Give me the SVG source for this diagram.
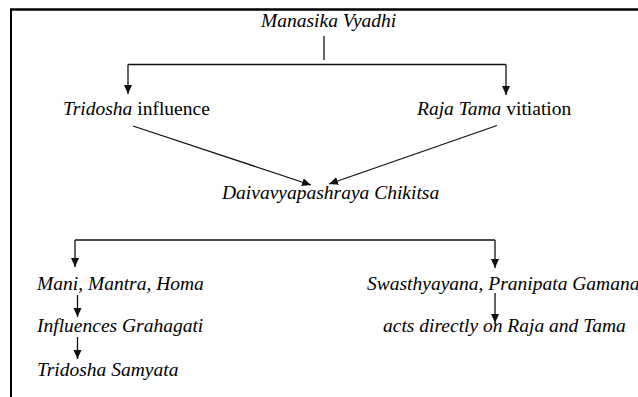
<svg xmlns="http://www.w3.org/2000/svg" width="638" height="397" viewBox="0 0 638 397">
  <style>
    .t { font-family: "Liberation Serif", "Times New Roman", serif; font-size: 19.5px; fill: #000; }
    .i { font-style: italic; }
    .ln { stroke: #111; stroke-width: 1.3; fill: none; }
    .ar { stroke: #111; stroke-width: 1.3; fill: none; marker-end: url(#head); }
    .frame { stroke: #000; fill: none; }
  </style>
  <defs>
    <marker id="head" markerUnits="userSpaceOnUse" markerWidth="10" markerHeight="9" refX="9" refY="4" orient="auto">
      <path d="M0,0 L9,4 L0,8 Z" fill="#111"/>
    </marker>
  </defs>
  <rect width="638" height="397" fill="#fff"/>

  <!-- outer frame (open at right and bottom) -->
  <line class="frame" x1="10" y1="9.5" x2="638" y2="9.5" stroke-width="2.5"/>
  <line class="frame" x1="11" y1="9" x2="11" y2="397" stroke-width="2"/>

  <g id="connectors">
    <line class="ln" x1="324" y1="36" x2="324" y2="60"/>
    <line class="ln" x1="128" y1="64.5" x2="506" y2="64.5"/>
    <line class="ar" x1="128" y1="64.5" x2="128" y2="94"/>
    <line class="ar" x1="506" y1="64.5" x2="506" y2="95"/>
    <line class="ar" x1="133" y1="126" x2="311" y2="185"/>
    <line class="ar" x1="497" y1="125.5" x2="329" y2="184"/>
    <line class="ln" x1="75" y1="240" x2="495" y2="240"/>
    <line class="ar" x1="75" y1="240" x2="75" y2="267"/>
    <line class="ar" x1="495" y1="240" x2="495" y2="268"/>
    <line class="ar" x1="77.5" y1="295" x2="77.5" y2="317"/>
    <line class="ar" x1="77.5" y1="337" x2="77.5" y2="359"/>
    <line class="ar" x1="495" y1="293" x2="495" y2="323"/>
  </g>

  <g id="manasika-vyadhi"><text class="t i" x="261" y="27">Manasika Vyadhi</text></g>
  <g id="tridosha-influence"><text class="t" x="63" y="114.5"><tspan class="i">Tridosha</tspan> influence</text></g>
  <g id="raja-tama-vitiation"><text class="t" x="417" y="114.5"><tspan class="i">Raja Tama</tspan> vitiation</text></g>
  <g id="daivavyapashraya"><text class="t i" x="222" y="198.5">Daivavyapashraya Chikitsa</text></g>
  <g id="mani-mantra-homa"><text class="t i" x="37" y="289.5">Mani, Mantra, Homa</text></g>
  <g id="influences-grahagati"><text class="t i" x="37" y="332">Influences Grahagati</text></g>
  <g id="tridosha-samyata"><text class="t i" x="37" y="376">Tridosha Samyata</text></g>
  <g id="swasthyayana"><text class="t i" x="367" y="289.5">Swasthyayana, Pranipata Gamana</text></g>
  <g id="acts-directly"><text class="t i" x="383" y="331.5">acts directly on Raja and Tama</text></g>
</svg>
